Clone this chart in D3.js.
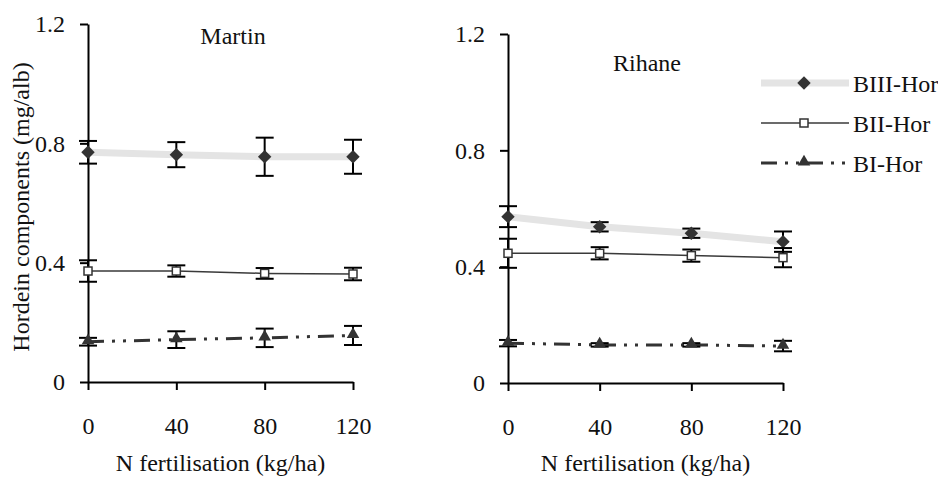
<!DOCTYPE html>
<html>
<head>
<meta charset="utf-8">
<script src="https://cdn.jsdelivr.net/npm/d3@7"></script>
<style>
  body { margin: 0; background: #fff; }
</style>
</head>
<body>
<div id="chart"></div>
<script>
// N fertilisation levels (kg/ha)
var doses = [0, 40, 80, 120];
var yTicks = [0, 0.4, 0.8, 1.2];
var seriesNames = ["BIII-Hor", "BII-Hor", "BI-Hor"];

// Martin
var martinBIII = [0.77, 0.762, 0.755, 0.755];
var martinBIIIErr = [0.038, 0.042, 0.064, 0.057];
var martinBII = [0.372, 0.372, 0.364, 0.362];
var martinBIIErr = [0.036, 0.019, 0.018, 0.021];
var martinBI = [0.135, 0.142, 0.148, 0.156];
var martinBIErr = [0.013, 0.028, 0.031, 0.032];

// Rihane
var rihaneBIII = [0.572, 0.537, 0.515, 0.486];
var rihaneBIIIErr = [0.036, 0.016, 0.016, 0.035];
var rihaneBII = [0.446, 0.446, 0.438, 0.431];
var rihaneBIIErr = [0.05, 0.021, 0.021, 0.033];
var rihaneBI = [0.137, 0.131, 0.131, 0.127];
var rihaneBIErr = [0.011, 0.006, 0.006, 0.018];

var FONT = "'Liberation Serif', 'Times New Roman', serif";
var FS = "24px";

var W = 938, H = 479;
var svg = d3.select("#chart").append("svg")
  .attr("width", W)
  .attr("height", H)
  .attr("font-family", FONT);

var styles = {
  "BIII-Hor": {stroke: "#e4e4e4", width: 7, dash: null, marker: "diamond"},
  "BII-Hor": {stroke: "#3a3a3a", width: 1.5, dash: null, marker: "square"},
  "BI-Hor": {stroke: "#333", width: 3, dash: "16,8,3,8,3,8", marker: "triangle"}
};

function drawMarker(g, type, x, y) {
  if (type == "diamond") {
    g.append("path")
      .attr("d", d3.symbol().type(d3.symbolDiamond2).size(115)())
      .attr("transform", "translate(" + x + "," + y + ")")
      .attr("fill", "#333");
  } else if (type == "square") {
    g.append("rect")
      .attr("x", x - 4).attr("y", y - 4)
      .attr("width", 8).attr("height", 8)
      .attr("fill", "#fff")
      .attr("stroke", "#333")
      .attr("stroke-width", 1.5);
  } else {
    g.append("path")
      .attr("d", d3.symbol().type(d3.symbolTriangle).size(68)())
      .attr("transform", "translate(" + x + "," + (y - 1) + ")")
      .attr("fill", "#333");
  }
}

function addText(g, x, y, str, anchor) {
  return g.append("text")
    .attr("x", x).attr("y", y)
    .attr("text-anchor", anchor || "start")
    .attr("font-family", FONT)
    .attr("font-size", FS)
    .attr("fill", "#111")
    .text(str);
}

function panel(opts) {
  var x = d3.scaleLinear().domain([0, 120]).range(opts.xRange);
  var y = d3.scaleLinear().domain([0, 1.2]).range(opts.yRange);
  var g = svg.append("g");

  // axes
  var yAxis = g.append("g")
    .attr("transform", "translate(" + opts.xRange[0] + ",0)")
    .call(d3.axisLeft(y).tickValues(yTicks).tickSize(8).tickSizeOuter(0).tickPadding(15)
      .tickFormat(function(d){ return d == 0 ? "0" : d3.format(".1f")(d); }));
  var xAxis = g.append("g")
    .attr("transform", "translate(0," + opts.yRange[0] + ")")
    .call(d3.axisBottom(x).tickValues(doses).tickSize(8).tickSizeOuter(0).tickPadding(27));
  [yAxis, xAxis].forEach(function(a){
    a.attr("font-family", FONT).attr("font-size", FS);
    a.select(".domain").attr("stroke", "#000").attr("stroke-width", 2);
    a.selectAll(".tick line").attr("stroke", "#000").attr("stroke-width", 2);
    a.selectAll(".tick text").attr("fill", "#111");
  });

  var line = d3.line()
    .x(function(d){ return x(d[0]); })
    .y(function(d){ return y(d[1]); });

  opts.series.forEach(function(s){
    var st = styles[s.name];
    var pts = doses.map(function(d, i){ return [d, s.values[i]]; });
    g.append("path")
      .datum(pts)
      .attr("d", line)
      .attr("fill", "none")
      .attr("stroke", st.stroke)
      .attr("stroke-width", st.width)
      .attr("stroke-dasharray", st.dash);
  });

  // error bars and markers
  opts.series.forEach(function(s){
    var st = styles[s.name];
    doses.forEach(function(d, i){
      var cx = x(d), v = s.values[i], e = s.err[i];
      var top = y(v + e), bot = y(v - e);
      g.append("line").attr("x1", cx).attr("x2", cx).attr("y1", top).attr("y2", bot)
        .attr("stroke", "#000").attr("stroke-width", 2);
      [top, bot].forEach(function(yy){
        g.append("line").attr("x1", cx - 9).attr("x2", cx + 9).attr("y1", yy).attr("y2", yy)
          .attr("stroke", "#000").attr("stroke-width", 2);
      });
      drawMarker(g, st.marker, cx, y(v));
    });
  });

  addText(g, opts.titleX, opts.titleY, opts.title, "middle");
  addText(g, (opts.xRange[0] + opts.xRange[1]) / 2, 471, "N fertilisation (kg/ha)", "middle");
}

panel({
  title: "Martin", titleX: 233, titleY: 44,
  xRange: [88, 353], yRange: [382, 24],
  series: [
    {name: "BIII-Hor", values: martinBIII, err: martinBIIIErr},
    {name: "BII-Hor", values: martinBII, err: martinBIIErr},
    {name: "BI-Hor", values: martinBI, err: martinBIErr}
  ]
});

panel({
  title: "Rihane", titleX: 647, titleY: 71,
  xRange: [508, 783], yRange: [383, 34],
  series: [
    {name: "BIII-Hor", values: rihaneBIII, err: rihaneBIIIErr},
    {name: "BII-Hor", values: rihaneBII, err: rihaneBIIErr},
    {name: "BI-Hor", values: rihaneBI, err: rihaneBIErr}
  ]
});

// y title
addText(svg, 0, 0, "Hordein components (mg/alb)", "middle")
  .attr("transform", "translate(29,207) rotate(-90)");

// legend
var legend = svg.append("g");
seriesNames.forEach(function(name, i){
  var st = styles[name];
  var ly = 83 + i * 40;
  legend.append("line")
    .attr("x1", 761).attr("x2", 849).attr("y1", ly).attr("y2", ly)
    .attr("stroke", st.stroke)
    .attr("stroke-width", st.width)
    .attr("stroke-dasharray", st.dash);
  drawMarker(legend, st.marker, 804, ly);
  addText(legend, 853, ly + 9, name);
});
</script>
</body>
</html>
